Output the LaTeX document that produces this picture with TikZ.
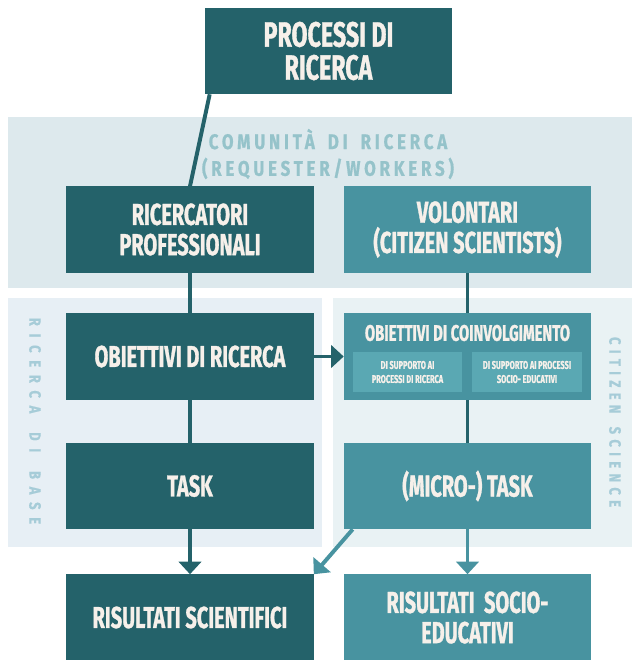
\documentclass[tikz,border=0pt]{standalone}
\usepackage{fontspec}
\usetikzlibrary{arrows.meta}
\setmainfont{Fira Sans}
\newfontfamily\boxfont[FakeStretch=0.66,BoldFeatures={FakeBold=1}]{Fira Sans}
\newfontfamily\bandfont[FakeStretch=0.8,LetterSpace=18,BoldFeatures={FakeBold=0.8}]{Fira Sans}
\newfontfamily\sidefont[FakeStretch=0.8,LetterSpace=48,BoldFeatures={FakeBold=0.6}]{Fira Sans}
\newfontfamily\citfont[FakeStretch=0.8,LetterSpace=33,BoldFeatures={FakeBold=0.6}]{Fira Sans}
\definecolor{tealdark}{HTML}{24626A}
\definecolor{tealmid}{HTML}{4893A0}
\definecolor{tealsub}{HTML}{5AA8B3}
\definecolor{boxtext}{HTML}{F6F0EA}
\definecolor{bandtop}{HTML}{DDE9ED}
\definecolor{bandleft}{HTML}{E7EFF5}
\definecolor{bandright}{HTML}{E9F2F4}
\definecolor{bandink}{HTML}{95C3CA}
\definecolor{sideink}{HTML}{A6CCD8}
\begin{document}
\begin{tikzpicture}
    [
    x=0.025cm, y=-0.025cm,
    darkbox/.style={rectangle,fill=tealdark,text=boxtext,inner sep=0pt,align=center,
      minimum width=6.175cm, minimum height=2.15cm,
      font={\boxfont\bfseries\fontsize{21.5}{21.5}\selectfont}},
    lightbox/.style={darkbox,fill=tealmid},
    subbox/.style={rectangle,fill=tealsub,text=boxtext,inner sep=0pt,align=center,
      minimum width=2.725cm, minimum height=1cm,
      font={\boxfont\bfseries\fontsize{8}{10}\selectfont}},
    bandlabel/.style={text=bandink,align=center,inner sep=0pt,
      font={\bandfont\bfseries\fontsize{15}{19}\selectfont}},
    sidelabel/.style={text=sideink,inner sep=0pt,rotate=-90,
      font={\sidefont\bfseries\fontsize{11.5}{12}\selectfont}},
    link/.style={line width=2.8pt,draw=tealdark},
    arrow/.style={link,-{Triangle[width=16pt,length=9pt]}}
    ]
    \useasboundingbox (0,0) rectangle (635,660);
    % bands
    \fill [bandtop] (8,117) rectangle (632,288);
    \fill [bandleft] (8,298) rectangle (322,547);
    \fill [bandright] (333,298) rectangle (632,547);
    \node (comm) at (328,154) [bandlabel] {COMUNITÀ\hspace{0.25em} DI\hspace{0.25em} RICERCA\\(REQUESTER/WORKERS)};
    \node (base) at (35,421) [sidelabel] {RICERCA\hspace{0.5em} DI\hspace{0.5em} BASE};
    \node (cits) at (615,422) [sidelabel,font={\citfont\bfseries\fontsize{11.5}{12}\selectfont}] {CITIZEN\hspace{0.3em} SCIENCE};
    % boxes
    \node (proc) at (328.5,51) [darkbox,font={\boxfont\bfseries\fontsize{25}{23.5}\selectfont}] {PROCESSI DI\\RICERCA};
    \node (ric) at (190,229.5) [darkbox] {RICERCATORI\\PROFESSIONALI};
    \node (vol) at (467.5,229.5) [lightbox] {VOLONTARI\\(CITIZEN SCIENTISTS)};
    \node (obr) at (190,356.5) [darkbox] {OBIETTIVI DI RICERCA};
    \node (obc) at (467.5,356.5) [lightbox] {};
    \node (obct) at (467.5,333) [text=boxtext,inner sep=0pt,font={\boxfont\bfseries\fontsize{16}{16}\selectfont}] {OBIETTIVI DI COINVOLGIMENTO};
    \node (sup1) at (407.5,372) [subbox] {DI SUPPORTO AI\\PROCESSI DI RICERCA};
    \node (sup2) at (527,372) [subbox] {DI SUPPORTO AI PROCESSI\\SOCIO- EDUCATIVI};
    \node (task) at (190,486) [darkbox] {TASK};
    \node (mtask) at (467.5,486) [lightbox] {(MICRO-) TASK};
    \node (rsci) at (190,617.5) [darkbox] {RISULTATI SCIENTIFICI};
    \node (rsoc) at (467.5,617.5) [lightbox] {RISULTATI \ SOCIO-\\EDUCATIVI};
    % connectors
    \draw [link] ([xshift=0.125cm]proc.south west) to (ric.north);
    \draw [link] (ric) to (obr);
    \draw [link] (vol) to (obc);
    \draw [arrow] (obr) to (obc);
    \draw [link] (obr) to (task);
    \draw [link] (obc) to (mtask);
    \draw [arrow] (task) to (rsci);
    \draw [arrow,draw=tealmid] (mtask) to (rsoc);
    \draw [arrow,draw=tealmid] ([xshift=0.225cm]mtask.south west) to (rsci.north east);
  \end{tikzpicture}
\end{document}
